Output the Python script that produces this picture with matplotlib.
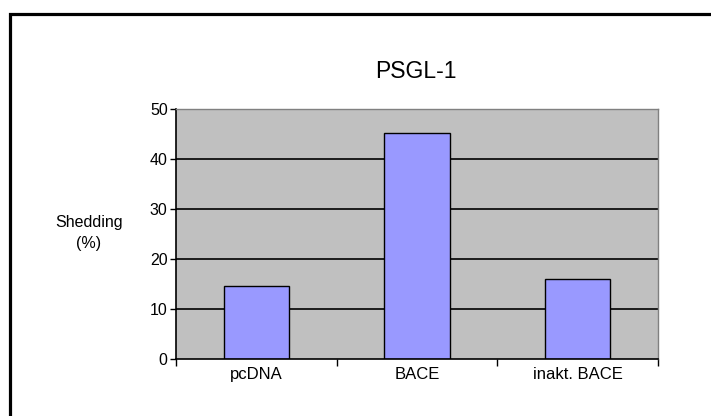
import numpy as np
import matplotlib.pyplot as plt
from matplotlib.patches import Rectangle

"""Data read from the chart"""
categories = ["pcDNA", "BACE", "inakt. BACE"]
shedding = [14.6, 45.2, 16.0]
yTicks = [0, 10, 20, 30, 40, 50]

plt.rcParams['font.family'] = ['Liberation Sans', 'DejaVu Sans']

fig = plt.figure(figsize=(7.11, 4.16), dpi=100)
fig.patch.set_facecolor('white')

"""Frame round the whole chart, cut off at right and bottom"""
W, H = 711, 416
fig.patches.append(Rectangle((10 / W, -0.2), 1.2, (416 - 14) / H + 0.2,
                             transform=fig.transFigure, fill=False,
                             edgecolor='black', linewidth=2.3, zorder=0))

ax = fig.add_axes([176 / W, (H - 359) / H, (658 - 176) / W, (359 - 109) / H])
ax.set_facecolor('#C0C0C0')

x = np.arange(len(categories))
ax.bar(x, shedding, width=0.405, color='#9999FF', edgecolor='black',
       linewidth=1.0, zorder=3)

ax.set_xlim(-0.5, len(categories) - 0.5)
ax.set_ylim(0, 50)
ax.set_yticks(yTicks)
ax.set_yticklabels([str(t) for t in yTicks], fontsize=11.5)
for t in yTicks[1:-1]:
    ax.axhline(t, color='black', linewidth=1.2, zorder=2)

ax.set_xticks(np.arange(len(categories) + 1) - 0.5)
ax.set_xticklabels([])
ax.set_xticks(x, minor=True)
ax.set_xticklabels(categories, minor=True, fontsize=12)
ax.tick_params(axis='x', which='minor', length=0, pad=6)
ax.tick_params(axis='x', which='major', length=5, width=1.0, direction='out')
ax.tick_params(axis='y', length=4, width=1.0, direction='out', pad=2)

for side in ['top', 'right']:
    ax.spines[side].set_color('#808080')
    ax.spines[side].set_linewidth(1.0)
for side in ['left', 'bottom']:
    ax.spines[side].set_color('black')
    ax.spines[side].set_linewidth(1.2)
ax.spines['bottom'].set_zorder(4)

fig.text(89 / W, 1 - 233 / H, "Shedding\n(%)", ha='center', va='center',
         fontsize=11.5, linespacing=1.5)
fig.text(416 / W, 1 - 71 / H, "PSGL-1", ha='center', va='center',
         fontsize=16.5)

fig.savefig("out.png", dpi=100)
